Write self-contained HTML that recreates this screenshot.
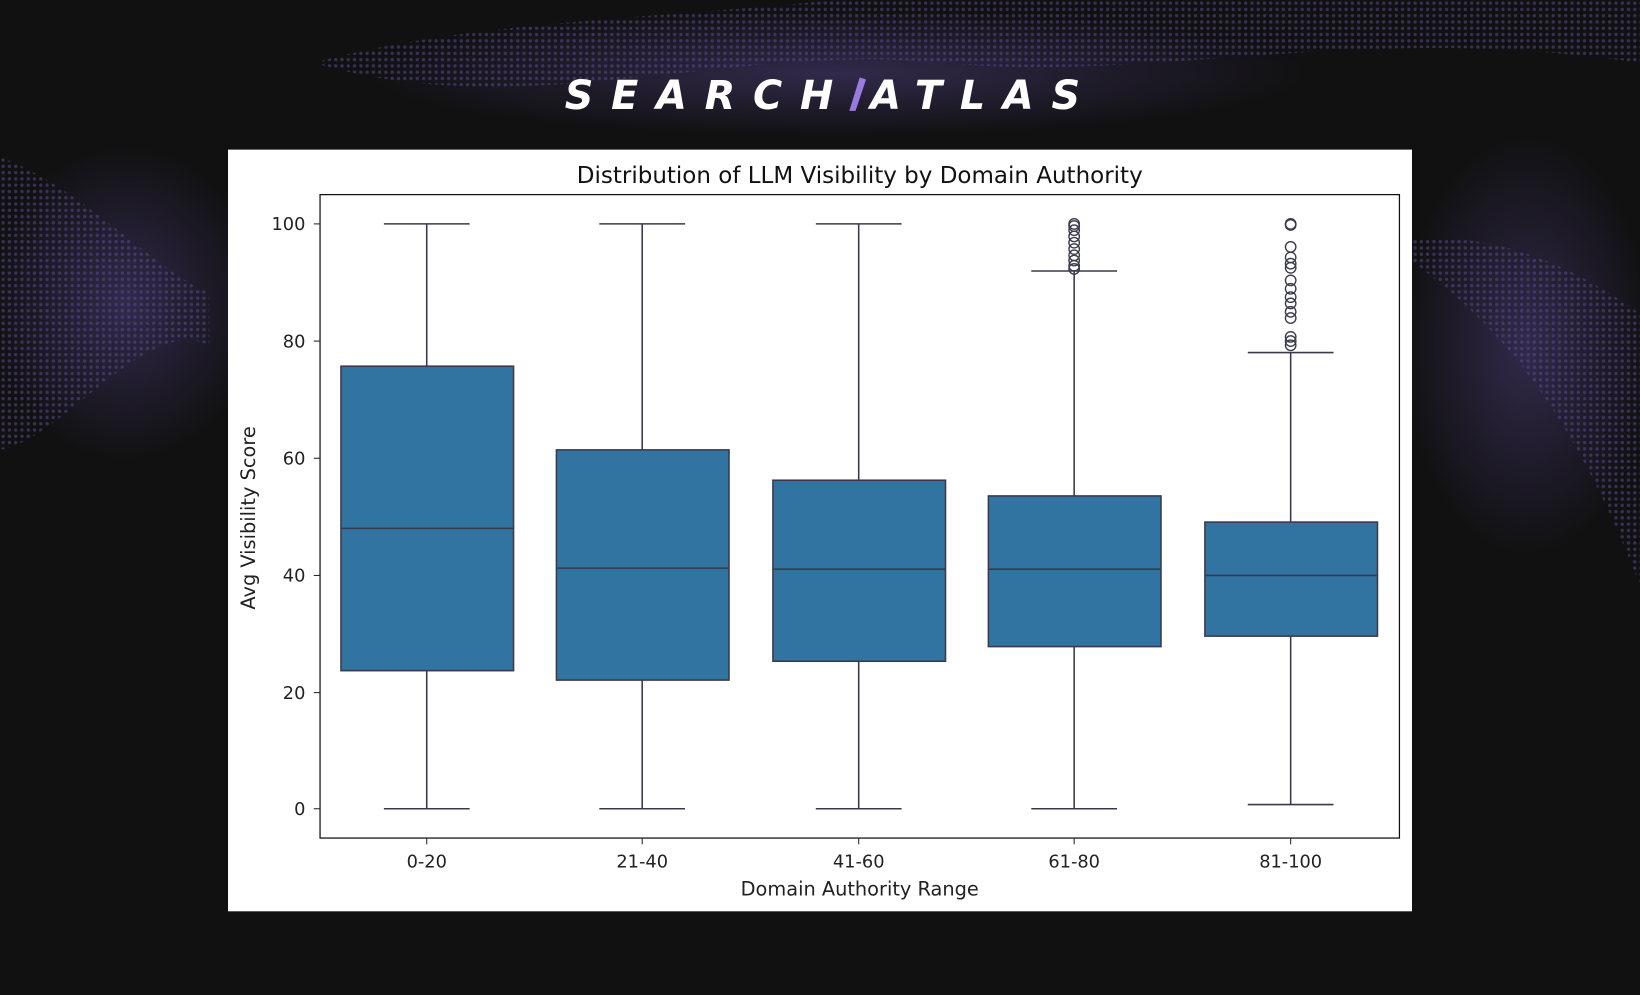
<!DOCTYPE html>
<html><head><meta charset="utf-8"><style>
html,body{margin:0;padding:0;background:#111112;width:1640px;height:995px;overflow:hidden}
svg{display:block}
</style></head><body>
<svg width="1640" height="995" viewBox="0 0 1568 951" preserveAspectRatio="none" xmlns="http://www.w3.org/2000/svg" font-family="'DejaVu Sans','Liberation Sans',sans-serif">
<defs>
<radialGradient id="g1" cx="0.5" cy="0.5" r="0.5"><stop offset="0" stop-color="#5a4890" stop-opacity="0.45"/><stop offset="1" stop-color="#5a4890" stop-opacity="0"/></radialGradient>
<pattern id="dots" width="6" height="6" patternUnits="userSpaceOnUse"><circle cx="3" cy="3" r="1.6" fill="#6a55a8"/></pattern>
</defs>
<rect width="1568" height="951" fill="#111112"/>
<g opacity="0.45">
<path d="M0 150 C80 180 150 260 200 280 L200 330 C140 300 60 420 0 430 Z" fill="url(#dots)"/>
<path d="M1350 250 C1420 300 1500 380 1568 560 L1568 300 C1500 250 1420 220 1350 230 Z" fill="url(#dots)"/>
<path d="M300 60 C500 120 700 40 900 60 C1100 80 1300 20 1568 60 L1568 0 L800 0 C600 20 450 20 300 60 Z" fill="url(#dots)"/>
</g>
<ellipse cx="120" cy="290" rx="130" ry="150" fill="url(#g1)"/>
<ellipse cx="1460" cy="330" rx="120" ry="200" fill="url(#g1)"/>
<ellipse cx="800" cy="70" rx="450" ry="60" fill="url(#g1)"/>
<g font-family="'DejaVu Sans','Liberation Sans',sans-serif" font-weight="bold" font-style="italic" font-size="38" fill="#fff" letter-spacing="17">
<text x="540" y="104">SEARCH</text>
<text x="832" y="104">ATLAS</text>
</g>
<polygon points="812,106 818,106 828,76 822,74" fill="#9a7ae0"/>
<rect x="218" y="143" width="1132" height="728" fill="#fff"/>
<text x="822" y="175" font-size="22" text-anchor="middle" fill="#111">Distribution of LLM Visibility by Domain Authority</text>
<rect x="306" y="186" width="1032" height="615" fill="none" stroke="#111" stroke-width="1.2"/>
<g font-size="17" fill="#222" text-anchor="end">
<text x="292" y="220">100</text><text x="292" y="332">80</text><text x="292" y="444">60</text><text x="292" y="556">40</text><text x="292" y="668">20</text><text x="292" y="779">0</text>
</g>
<g stroke="#222" stroke-width="1">
<line x1="300" y1="214" x2="306" y2="214"/><line x1="300" y1="326" x2="306" y2="326"/><line x1="300" y1="438" x2="306" y2="438"/><line x1="300" y1="550" x2="306" y2="550"/><line x1="300" y1="662" x2="306" y2="662"/><line x1="300" y1="773" x2="306" y2="773"/>
<line x1="408" y1="801" x2="408" y2="807"/><line x1="614" y1="801" x2="614" y2="807"/><line x1="821" y1="801" x2="821" y2="807"/><line x1="1027" y1="801" x2="1027" y2="807"/><line x1="1234" y1="801" x2="1234" y2="807"/>
</g>
<g font-size="17" fill="#222" text-anchor="middle">
<text x="408" y="829">0-20</text><text x="614" y="829">21-40</text><text x="821" y="829">41-60</text><text x="1027" y="829">61-80</text><text x="1234" y="829">81-100</text>
</g>
<g font-size="18.5" fill="#222" text-anchor="middle">
<text x="822" y="856">Domain Authority Range</text>
<text transform="translate(244,495) rotate(-90)">Avg Visibility Score</text>
</g>
<g stroke="#3a3a4a" stroke-width="1.5" fill="none">
<path d="M408 214V350M408 641V773M367 214H449M367 773H449"/>
<rect x="326" y="350" width="165" height="291" fill="#3274a1"/><line x1="326" y1="505" x2="491" y2="505"/>
<path d="M614 214V430M614 650V773M573 214H655M573 773H655"/>
<rect x="532" y="430" width="165" height="220" fill="#3274a1"/><line x1="532" y1="543" x2="697" y2="543"/>
<path d="M821 214V459M821 632V773M780 214H862M780 773H862"/>
<rect x="739" y="459" width="165" height="173" fill="#3274a1"/><line x1="739" y1="544" x2="904" y2="544"/>
<path d="M1027 259V474M1027 618V773M986 259H1068M986 773H1068"/>
<rect x="945" y="474" width="165" height="144" fill="#3274a1"/><line x1="945" y1="544" x2="1110" y2="544"/>
<path d="M1234 337V499M1234 608V769M1193 337H1275M1193 769H1275"/>
<rect x="1152" y="499" width="165" height="109" fill="#3274a1"/><line x1="1152" y1="550" x2="1317" y2="550"/>
</g>
<g stroke="#3a3a4a" stroke-width="1.3" fill="none">
<circle cx="1027" cy="214" r="5"/><circle cx="1027" cy="216" r="5"/><circle cx="1027" cy="220" r="5"/><circle cx="1027" cy="226" r="5"/><circle cx="1027" cy="232" r="5"/><circle cx="1027" cy="238" r="5"/><circle cx="1027" cy="244" r="5"/><circle cx="1027" cy="249" r="5"/><circle cx="1027" cy="254" r="5"/><circle cx="1027" cy="257" r="5"/>
<circle cx="1234" cy="214" r="5"/><circle cx="1234" cy="215" r="5"/><circle cx="1234" cy="236" r="5"/><circle cx="1234" cy="246" r="5"/><circle cx="1234" cy="252" r="5"/><circle cx="1234" cy="256" r="5"/><circle cx="1234" cy="268" r="5"/><circle cx="1234" cy="276" r="5"/><circle cx="1234" cy="284" r="5"/><circle cx="1234" cy="290" r="5"/><circle cx="1234" cy="298" r="5"/><circle cx="1234" cy="304" r="5"/><circle cx="1234" cy="322" r="5"/><circle cx="1234" cy="326" r="5"/><circle cx="1234" cy="330" r="5"/>
</g>
</svg>
</body></html>
